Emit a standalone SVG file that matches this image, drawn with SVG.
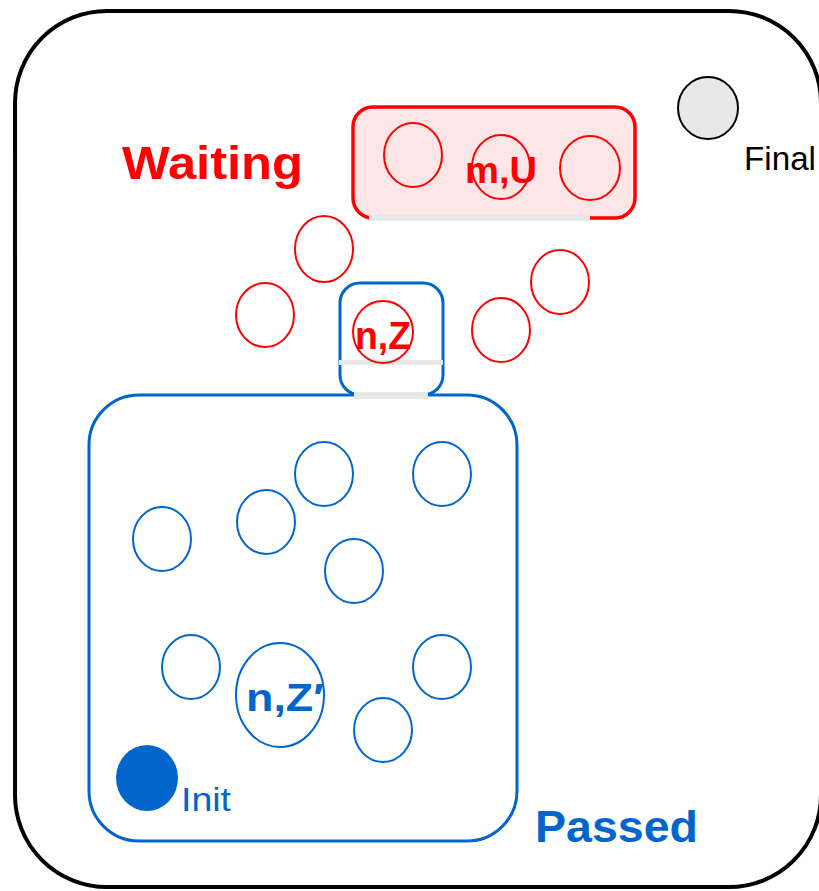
<svg xmlns="http://www.w3.org/2000/svg" width="819" height="891" viewBox="0 0 819 891">
<style>
.red{fill:none;stroke:#FF0000;stroke-width:2}
.blue{fill:none;stroke:#0066CC;stroke-width:2}
.bar{fill:#E8E8E8;stroke:none}
.lbl{font-family:"Liberation Sans",Arial,sans-serif;font-weight:bold}
.reg{font-family:"Liberation Sans",Arial,sans-serif}
</style>
<rect width="819" height="891" fill="#FFFFFF"/>
<g id="universe">
<rect x="15" y="11" width="806" height="876" rx="92" ry="92" fill="none" stroke="#000000" stroke-width="4"/>
</g>
<g id="passed">
<rect x="89" y="395" width="428" height="446" rx="50" ry="50" fill="none" stroke="#0066CC" stroke-width="3"/>
<text class="lbl" x="535" y="842" font-size="45" fill="#0066CC" textLength="163" lengthAdjust="spacingAndGlyphs">Passed</text>
</g>
<g id="waiting">
<rect x="353" y="107" width="282" height="111" rx="20" ry="20" fill="#FFE6E6" stroke="#FF0000" stroke-width="3.5"/>
<rect class="bar" x="369" y="215" width="221" height="6"/>
<text class="lbl" x="122" y="179" font-size="47" fill="#FF0000" textLength="181" lengthAdjust="spacingAndGlyphs">Waiting</text>
</g>
<g id="current">
<rect x="340" y="283" width="103" height="112" rx="20" ry="20" fill="#FFFFFF" stroke="#0066CC" stroke-width="3"/>
<rect class="bar" x="339" y="360" width="104" height="5"/>
<rect class="bar" x="354" y="392" width="74" height="7"/>
</g>
<g id="waiting-states">
<ellipse class="red" cx="413" cy="155" rx="29" ry="32"/>
<ellipse class="red" cx="501" cy="167" rx="29" ry="32"/>
<ellipse class="red" cx="590" cy="168" rx="30" ry="32"/>
<ellipse class="red" cx="324" cy="249" rx="29" ry="33"/>
<ellipse class="red" cx="265" cy="315" rx="29" ry="32"/>
<ellipse class="red" cx="560" cy="282" rx="29" ry="32"/>
<ellipse class="red" cx="501" cy="330" rx="29" ry="32"/>
</g>
<g id="node-mU">
<text class="lbl" x="465" y="183" font-size="36" fill="#FF0000" textLength="72" lengthAdjust="spacingAndGlyphs">m,U</text>
</g>
<g id="node-nZ">
<ellipse class="red" cx="383" cy="332" rx="30" ry="31"/>
<text class="lbl" x="355" y="349" font-size="38" fill="#FF0000" textLength="56" lengthAdjust="spacingAndGlyphs">n,Z</text>
</g>
<g id="passed-states">
<ellipse class="blue" cx="324" cy="474" rx="29" ry="32"/>
<ellipse class="blue" cx="442" cy="474" rx="29" ry="32"/>
<ellipse class="blue" cx="266" cy="522" rx="29" ry="32"/>
<ellipse class="blue" cx="162" cy="539" rx="29" ry="32"/>
<ellipse class="blue" cx="354" cy="571" rx="29" ry="32"/>
<ellipse class="blue" cx="191" cy="667" rx="29" ry="32"/>
<ellipse class="blue" cx="442" cy="667" rx="29" ry="32"/>
<ellipse class="blue" cx="383" cy="730" rx="29" ry="32"/>
</g>
<g id="node-nZprime">
<ellipse class="blue" cx="280" cy="695" rx="44" ry="52"/>
<text class="lbl" x="246" y="711" font-size="38" fill="#0066CC" textLength="78" lengthAdjust="spacingAndGlyphs">n,Z′</text>
</g>
<g id="init">
<ellipse cx="147" cy="778" rx="31" ry="33" fill="#0066CC"/>
<text class="reg" x="181" y="811" font-size="34" fill="#0066CC" textLength="50" lengthAdjust="spacingAndGlyphs">Init</text>
</g>
<g id="final">
<ellipse cx="708" cy="108" rx="30" ry="31" fill="#E8E8E8" stroke="#000000" stroke-width="2"/>
<text class="reg" x="744" y="170" font-size="33" fill="#000000" textLength="72" lengthAdjust="spacingAndGlyphs">Final</text>
</g>
<g id="connectors"/>
</svg>
